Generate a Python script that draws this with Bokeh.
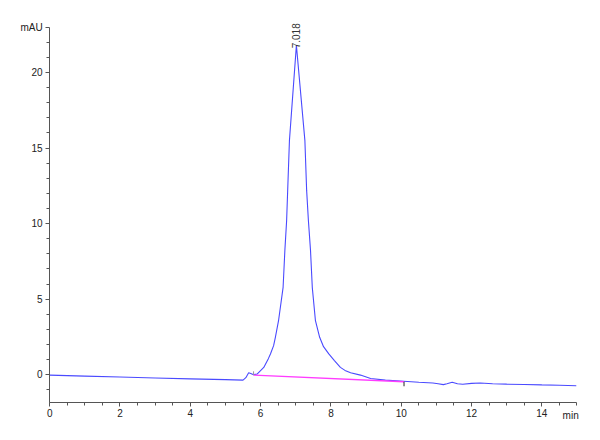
import math
from bokeh.plotting import figure
from bokeh.models import FixedTicker, Range1d, ColumnDataSource
from bokeh.core.properties import value
from bokeh.embed import file_html
from bokeh.resources import INLINE

# chromatogram trace (min, mAU)
time_min = [0.0, 1.0, 2.0, 3.0, 4.0, 5.0, 5.5, 5.58, 5.66, 5.72, 5.8, 5.9,
            6.09, 6.22, 6.28, 6.37, 6.42, 6.51, 6.64, 6.69, 6.74, 6.77, 6.82, 7.018,
            7.26, 7.31, 7.36, 7.42, 7.47, 7.56, 7.68, 7.79, 7.94, 8.1, 8.27, 8.4,
            8.56, 8.84, 9.13, 9.55, 10.07, 10.5, 10.9, 11.05, 11.2, 11.3,
            11.45, 11.6, 11.75, 12.0, 12.25, 12.6, 13.0, 13.5, 14.0, 14.5, 14.98]
signal_mau = [-0.03, -0.1, -0.16, -0.22, -0.28, -0.33, -0.36, -0.2, 0.12, 0.08, 0.0, 0.04,
              0.48, 1.06, 1.37, 1.92, 2.47, 3.57, 5.78, 8.21, 10.19, 12.18, 15.49, 21.8,
              15.49, 12.18, 10.19, 8.21, 5.78, 3.57, 2.47, 1.85, 1.37, 0.93, 0.48, 0.28,
              0.13, -0.03, -0.26, -0.36, -0.44, -0.5, -0.55, -0.6, -0.66, -0.6,
              -0.5, -0.6, -0.64, -0.58, -0.55, -0.6, -0.63, -0.65, -0.68, -0.7, -0.74]

# integration baseline
baseline_t = [5.8, 10.08]
baseline_v = [-0.03, -0.47]

peak_label = ["7.018"]

x_ticks = [0, 2, 4, 6, 8, 10, 12, 14]
x_minor = [i * 0.5 for i in range(0, 31)]
y_ticks = [0, 5, 10, 15, 20, 23]
y_minor = list(range(-1, 23))
y_tick_labels = {23: "mAU"}
x_unit = ["min"]

X_MIN, X_MAX, Y_MIN, Y_MAX = 0.0, 15.0, -1.83, 23.0

FONT = "Liberation Sans"
BLUE = "#4a4aff"
MAGENTA = "#ff3cff"
AXIS = "#555555"
TEXT = "#222222"

p = figure(width=600, height=440, output_backend="svg", toolbar_location=None,
           x_range=Range1d(-1.2, 15.1), y_range=Range1d(-3.83, 24.37))
p.min_border_left = 7
p.min_border_right = 20
p.min_border_top = 6
p.min_border_bottom = 8
p.outline_line_color = None
p.xgrid.visible = False
p.ygrid.visible = False

p.line(time_min, signal_mau, line_color=BLUE, line_width=1.1)
p.line(baseline_t, baseline_v, line_color=MAGENTA, line_width=1.3)

# integration markers at start and end of baseline
p.segment(x0=[baseline_t[0]], y0=[baseline_v[0]], x1=[baseline_t[0]], y1=[baseline_v[0] + 0.25],
          line_color="#999999", line_width=1)
p.segment(x0=[baseline_t[1]], y0=[baseline_v[1]], x1=[baseline_t[1]], y1=[baseline_v[1] - 0.3],
          line_color="#222222", line_width=1)

# peak label
i_max = max(range(len(signal_mau)), key=lambda i: signal_mau[i])
src = ColumnDataSource(dict(x=[time_min[i_max]], y=[signal_mau[i_max]], t=peak_label))
p.text(x="x", y="y", text="t", source=src, angle=math.pi / 2,
       text_align="left", text_baseline="middle", y_offset=3,
       text_font=value(FONT), text_font_size="10px", text_color="#333333")

for ax in (p.xaxis[0], p.yaxis[0]):
    ax.axis_line_color = AXIS
    ax.major_tick_line_color = AXIS
    ax.minor_tick_line_color = AXIS
    ax.major_tick_out = 4
    ax.major_tick_in = 0
    ax.minor_tick_out = 3
    ax.minor_tick_in = 0
    ax.major_label_text_font = FONT
    ax.major_label_text_font_size = "10px"
    ax.major_label_text_color = TEXT
    ax.major_label_standoff = 3

p.xaxis[0].ticker = FixedTicker(ticks=x_ticks, minor_ticks=x_minor)
p.xaxis[0].fixed_location = Y_MIN
p.xaxis[0].bounds = (X_MIN, X_MAX)
p.yaxis[0].ticker = FixedTicker(ticks=y_ticks, minor_ticks=y_minor)
p.yaxis[0].fixed_location = X_MIN
p.yaxis[0].bounds = (Y_MIN, Y_MAX)
p.yaxis[0].major_label_overrides = y_tick_labels

# unit label at the end of the time axis
usrc = ColumnDataSource(dict(x=[14.82], y=[Y_MIN], t=x_unit))
p.text(x="x", y="y", text="t", source=usrc, y_offset=13,
       text_align="center", text_baseline="middle",
       text_font=value(FONT), text_font_size="10px", text_color=TEXT)

open("out.html", "w").write(file_html(p, INLINE))
